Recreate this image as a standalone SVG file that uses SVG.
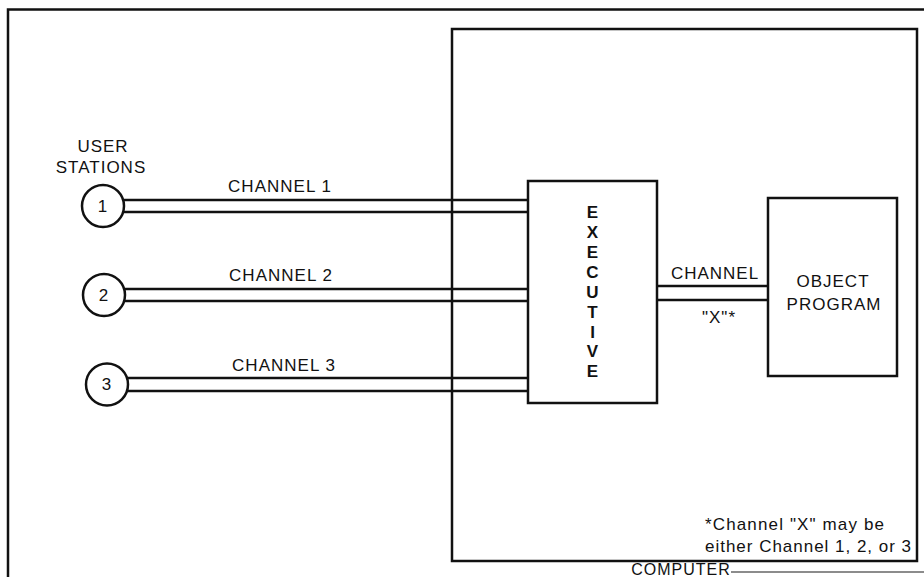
<svg xmlns="http://www.w3.org/2000/svg" width="924" height="577" viewBox="0 0 924 577">
<style>
.ln{stroke:#111;stroke-width:2.5;fill:none}
.box{stroke:#111;stroke-width:2.5;fill:#fff}
.t{font-family:"Liberation Sans",Arial,sans-serif;font-size:17px;fill:#111;letter-spacing:1px}
.c{text-anchor:middle}
.b{font-weight:bold}
</style>
<rect width="924" height="577" fill="#fff"/>
<g id="frame">
<path class="ln" d="M8,577 V9.5 H924"/>
<line x1="731" y1="572" x2="924" y2="572" stroke="#666" stroke-width="1.5"/>
</g>
<g id="computer">
<rect class="box" x="452" y="29" width="465" height="532"/>
<text class="t c" x="681" y="575" style="font-size:16px">COMPUTER</text>
</g>
<g id="connectors">
<line class="ln" x1="123" y1="200" x2="528" y2="200"/>
<line class="ln" x1="123" y1="212" x2="528" y2="212"/>
<line class="ln" x1="124" y1="289" x2="528" y2="289"/>
<line class="ln" x1="124" y1="301" x2="528" y2="301"/>
<line class="ln" x1="127" y1="378" x2="528" y2="378"/>
<line class="ln" x1="127" y1="391" x2="528" y2="391"/>
<line class="ln" x1="657" y1="286" x2="768" y2="286"/>
<line class="ln" x1="657" y1="300" x2="768" y2="300"/>
<text class="t c" x="280" y="192">CHANNEL 1</text>
<text class="t c" x="281" y="281">CHANNEL 2</text>
<text class="t c" x="284" y="371">CHANNEL 3</text>
<text class="t c" x="715" y="279">CHANNEL</text>
<text class="t c" x="719" y="323">"X"*</text>
</g>
<g id="user-stations-label">
<text class="t c" x="103" y="152">USER</text>
<text class="t c" x="101" y="173">STATIONS</text>
</g>
<g id="station1">
<circle class="box" cx="103" cy="206" r="21"/>
<text class="t c" x="103" y="212">1</text>
</g>
<g id="station2">
<circle class="box" cx="104" cy="295" r="21"/>
<text class="t c" x="104" y="301">2</text>
</g>
<g id="station3">
<circle class="box" cx="107" cy="384.5" r="21"/>
<text class="t c" x="107" y="390">3</text>
</g>
<g id="executive">
<rect class="box" x="528" y="181" width="129" height="222"/>
<g class="t c b">
<text x="593" y="218">E</text>
<text x="593" y="238">X</text>
<text x="593" y="258">E</text>
<text x="593" y="278">C</text>
<text x="593" y="298">U</text>
<text x="593" y="318">T</text>
<text x="593" y="338">I</text>
<text x="593" y="357">V</text>
<text x="593" y="377">E</text>
</g>
</g>
<g id="object-program">
<rect class="box" x="768" y="198" width="129" height="178"/>
<text class="t c" x="833" y="287">OBJECT</text>
<text class="t c" x="834" y="310">PROGRAM</text>
</g>
<g id="footnote">
<text class="t" x="705" y="530" textLength="180" lengthAdjust="spacing">*Channel "X" may be</text>
<text class="t" x="705" y="552" textLength="207" lengthAdjust="spacing">either Channel 1, 2, or 3</text>
</g>
</svg>
